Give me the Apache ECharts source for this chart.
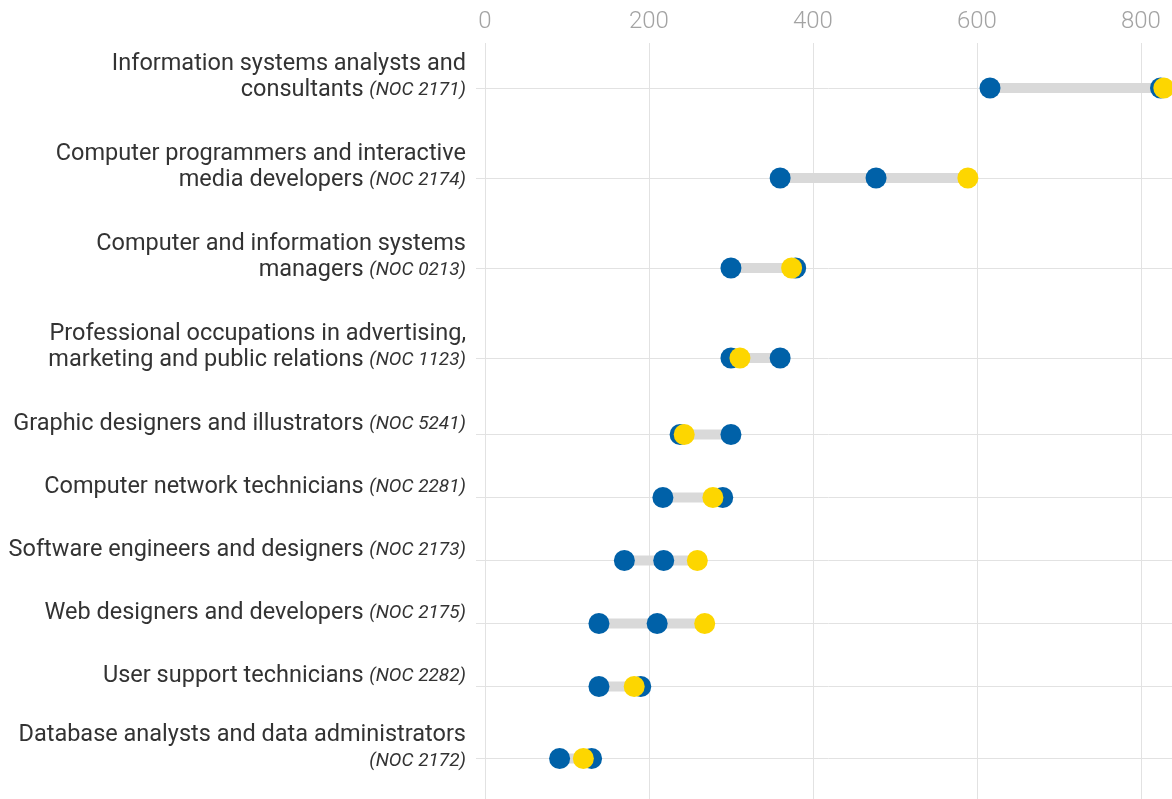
<!DOCTYPE html>
<html>
<head>
<meta charset="utf-8">
<script src="https://cdn.jsdelivr.net/npm/echarts@6/dist/echarts.min.js"></script>
<style>
  html, body { margin: 0; padding: 0; background: #fff; }
  #chart { width: 1172px; height: 799px; }
</style>
</head>
<body>
<div id="chart"></div>
<script>
// occupations, top to bottom ("\n" = line break in the label)
const occupations = [
  'Information systems analysts and\nconsultants',
  'Computer programmers and interactive\nmedia developers',
  'Computer and information systems\nmanagers',
  'Professional occupations in advertising,\nmarketing and public relations',
  'Graphic designers and illustrators',
  'Computer network technicians',
  'Software engineers and designers',
  'Web designers and developers',
  'User support technicians',
  'Database analysts and data administrators\n'
];
const nocCodes = ['2171', '2174', '0213', '1123', '5241', '2281', '2173', '2175', '2282', '2172'];
const blueLow  = [616, 360, 300, 300, 238, 217, 170, 139, 139, 91];
const blueHigh = [824, 477, 379, 360, 300, 290, 218, 210, 190, 130];
const yellowVals = [828, 589, 374, 311, 243, 278, 259, 268, 182, 120];
const xTicks = [0, 200, 400, 600, 800];

const BLUE = '#0061a8';
const YELLOW = '#fdd600';
const GRID = '#e2e2e2';

let chart = echarts.init(document.getElementById('chart'));

function labelText(i) {
  let lines = occupations[i].split('\n');
  let noc = '{n|(NOC ' + nocCodes[i] + ')}';
  return lines.map(function(l, k) {
    let last = k === lines.length - 1;
    if (!last) return '{a|' + l + '}';
    return l ? '{a|' + l + ' }' + noc : noc;
  }).join('\n');
}

let grids = [], xAxes = [], yAxes = [], series = [];
let bandTop = 43;
occupations.forEach(function(name, i) {
  let h = name.indexOf('\n') >= 0 ? 90 : 63;
  grids.push({ left: 485, right: 0, top: bandTop, height: h });
  bandTop += h;

  xAxes.push({
    type: 'value', gridIndex: i, min: 0, max: 838, interval: 200,
    position: 'top',
    axisLine: { show: false },
    axisTick: { show: false },
    axisLabel: {
      show: i === 0, showMaxLabel: false, margin: 9,
      color: '#a3a3a3', fontSize: 24, fontWeight: 300, fontFamily: 'Roboto'
    },
    splitLine: { show: true, showMaxLine: false, lineStyle: { color: GRID, width: 1 } }
  });

  yAxes.push({
    type: 'value', gridIndex: i, min: -1, max: 1, interval: 1,
    axisLine: { show: false },
    axisTick: { show: true, customValues: [0], length: 9, lineStyle: { color: GRID } },
    axisLabel: {
      customValues: [0], showMinLabel: false, showMaxLabel: false,
      margin: 19, align: 'right', verticalAlign: 'middle',
      padding: [0, 0, 21, 0],
      formatter: function(v) { return v === 0 ? labelText(i) : ''; },
      rich: {
        a: { fontFamily: 'Roboto', fontSize: 23.5, color: '#333', lineHeight: 26, align: 'right' },
        n: { fontFamily: 'Roboto', fontSize: 19, fontStyle: 'italic', color: '#333', lineHeight: 26, align: 'right' }
      }
    },
    splitLine: { show: true, lineStyle: { color: GRID, width: 1 } }
  });

  let vals = [blueLow[i], blueHigh[i], yellowVals[i]];
  series.push({
    type: 'line', xAxisIndex: i, yAxisIndex: i, silent: true, z: 1,
    symbol: 'none',
    lineStyle: { color: '#d9d9d9', width: 10 },
    data: [[Math.min.apply(null, vals), 0], [Math.max.apply(null, vals), 0]]
  });
  series.push({
    type: 'scatter', xAxisIndex: i, yAxisIndex: i, symbolSize: 21, z: 3,
    itemStyle: { color: BLUE, opacity: 1 },
    data: [[blueLow[i], 0], [blueHigh[i], 0]]
  });
  series.push({
    type: 'scatter', xAxisIndex: i, yAxisIndex: i, symbolSize: 21, z: 4,
    itemStyle: { color: YELLOW, opacity: 1 },
    data: [[yellowVals[i], 0]]
  });
});

chart.setOption({
  animation: false,
  grid: grids,
  xAxis: xAxes,
  yAxis: yAxes,
  series: series
});
</script>
</body>
</html>
